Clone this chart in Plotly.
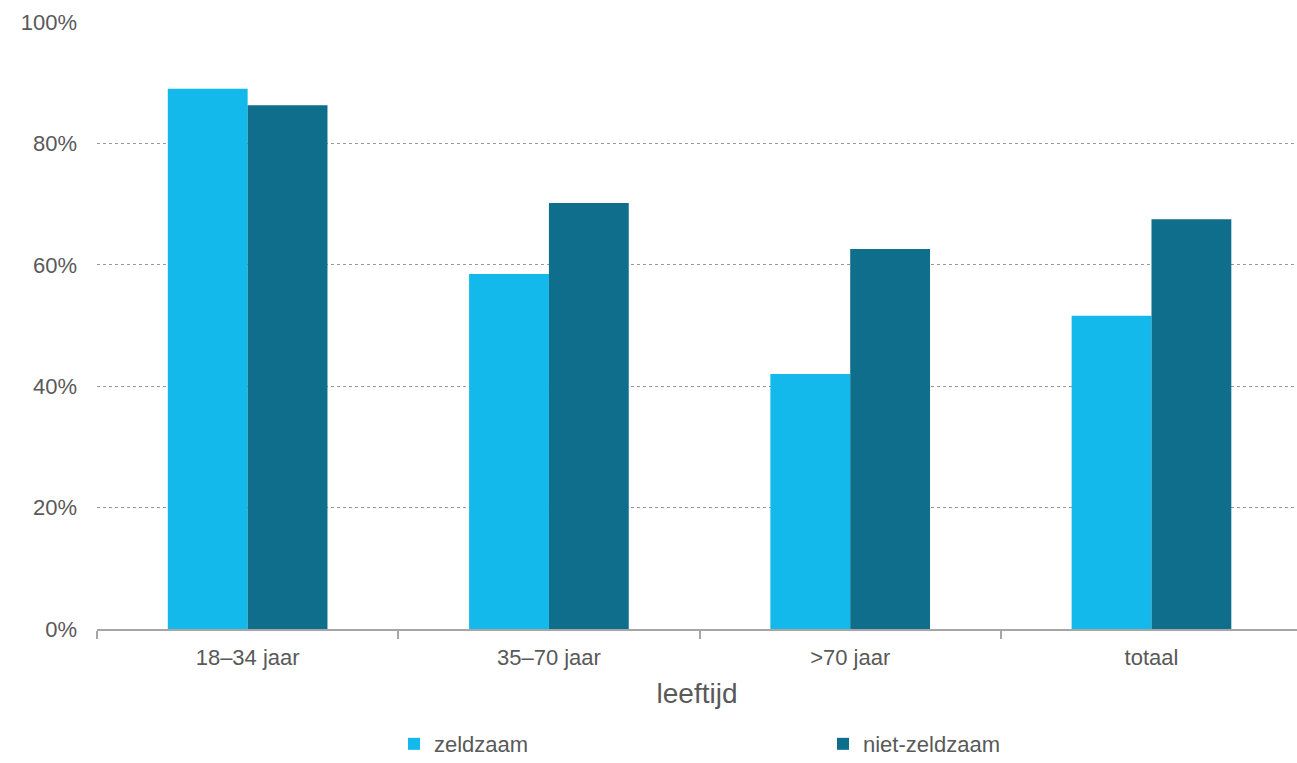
import plotly.graph_objects as go

categories = ["18–34 jaar", "35–70 jaar", ">70 jaar", "totaal"]
zeldzaam = [89.0, 58.5, 42.0, 51.6]
niet_zeldzaam = [86.3, 70.2, 62.6, 67.5]
y_ticks = [0, 20, 40, 60, 80, 100]
y_tick_labels = ["0%", "20%", "40%", "60%", "80%", "100%"]

TEXT = "#595959"
FONT = "Liberation Sans, Arial, sans-serif"

fig = go.Figure()
fig.add_trace(go.Bar(name="zeldzaam", x=categories, y=zeldzaam,
                     marker=dict(color="#14B9EC", line=dict(width=0))))
fig.add_trace(go.Bar(name="niet-zeldzaam", x=categories, y=niet_zeldzaam,
                     marker=dict(color="#0F6E8C", line=dict(width=0))))

fig.update_layout(
    width=1297, height=763,
    margin=dict(l=97, r=0, t=22, b=134, autoexpand=False),
    paper_bgcolor="white", plot_bgcolor="white",
    barmode="group", bargap=0.47, bargroupgap=0,
    font=dict(family=FONT, color=TEXT, size=22),
    legend=dict(orientation="h", x=0.2475, xanchor="left", y=-0.1549, yanchor="top",
                font=dict(size=22, color=TEXT), entrywidth=384, itemwidth=30,
                borderwidth=0, bgcolor="rgba(0,0,0,0)"),
    showlegend=True,
)
fig.update_xaxes(
    range=[-0.5, 3.483], automargin=False,
    showline=True, linecolor="#A6A6A6", linewidth=1.5,
    ticks="outside", tickson="boundaries", ticklen=8, tickcolor="#A6A6A6", tickwidth=1.5,
    ticklabelstandoff=8,
    tickfont=dict(size=22, color=TEXT),
    showgrid=False,
    title=dict(text="leeftijd", font=dict(size=28, color=TEXT), standoff=14),
)
fig.update_yaxes(
    range=[0, 100], automargin=False,
    tickvals=y_ticks, ticktext=y_tick_labels,
    showgrid=True, gridcolor="#999999", griddash="dot", gridwidth=1,
    zeroline=False, showline=False, ticks="",
    ticklabelstandoff=19,
    tickfont=dict(size=22, color=TEXT),
)

fig.write_html("out.html")
